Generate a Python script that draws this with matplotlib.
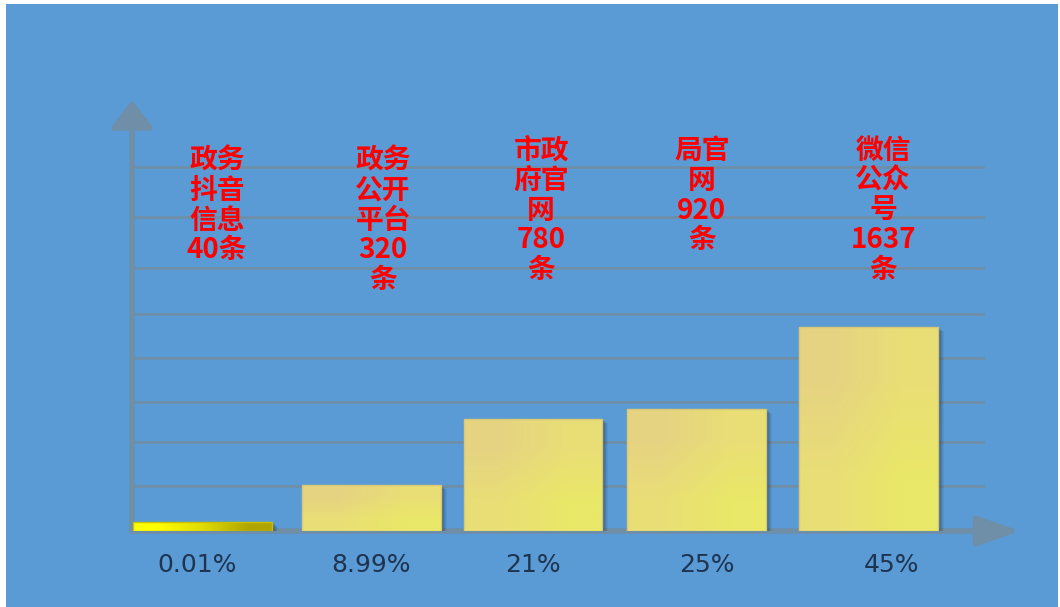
import numpy as np
import matplotlib
matplotlib.use("Agg")
import matplotlib.pyplot as plt
import matplotlib.transforms as mtransforms
from matplotlib.patches import Rectangle

plt.rcParams['font.family'] = ['Noto Sans CJK SC', 'DejaVu Sans']

# data
labels = ["政务\n抖音\n信息\n40条", "政务\n公开\n平台\n320\n条", "市政\n府官\n网\n780\n条",
          "局官\n网\n920\n条", "微信\n公众\n号\n1637\n条"]
percents = ["0.01%", "8.99%", "21%", "25%", "45%"]
heights = [9, 46, 112, 122, 204]           # bar height, same scale as the grid
grid_levels = [45, 89, 129, 173, 217, 263, 314, 364]

# layout
bar_pos = [0, 1.013, 1.986, 2.969, 4.0]
label_dx = [0.087, 0.072, 0.049, 0.031, 0.09]
label_top = [384, 384, 394, 394, 394]
pct_dx = [-0.033, 0.0, 0.0, 0.063, 0.143]
bg = "#5b9bd5"
axis_col = "#6f8ea8"

W, H = 1060, 607
fig = plt.figure(figsize=(W / 100, H / 100), dpi=100, facecolor="white")
fig.patches.append(Rectangle((6 / W, 0), (1058 - 6) / W, (H - 4) / H,
                             transform=fig.transFigure, facecolor=bg, edgecolor="none", zorder=-10))

# axes box: x 132..1020 px, y 531..100 px
ax = fig.add_axes([132 / W, (H - 531) / H, (1020 - 132) / W, (531 - 100) / H])
ax.set_facecolor("none")
for s in ax.spines.values():
    s.set_visible(False)
ax.set_xticks([])
ax.set_yticks([])

x0, x1 = -0.424, 4.913
ax.set_xlim(x0, x1)
ax.set_ylim(0, 431)

for g in grid_levels:
    ax.axhline(g, xmin=0, xmax=(983 - 132) / (1020 - 132), color=axis_col, lw=2, zorder=1)

# axis arrows
ax.annotate("", xy=(0, 1), xytext=(0, 0), xycoords="axes fraction",
            arrowprops=dict(arrowstyle="-|>,head_length=1.3,head_width=1.0", lw=4,
                            color=axis_col, shrinkA=0, shrinkB=0, mutation_scale=13),
            zorder=2, annotation_clip=False)
ax.annotate("", xy=(1, 0), xytext=(0, 0), xycoords="axes fraction",
            arrowprops=dict(arrowstyle="-|>,head_length=2.0,head_width=0.7", lw=4,
                            color=axis_col, shrinkA=0, shrinkB=0, mutation_scale=13),
            zorder=2, annotation_clip=False)

width = 0.835
bars = ax.bar(bar_pos, heights, width=width, color="none", edgecolor="none", zorder=4)

# soft drop shadow
for k, a in [(6, 0.08), (5, 0.1), (4, 0.13), (3, 0.16), (2, 0.2)]:
    tr = mtransforms.offset_copy(ax.transData, fig=fig, x=k, y=-k * 0.7, units="dots")
    for b in bars:
        ax.add_patch(Rectangle(b.get_xy(), b.get_width(), b.get_height(), transform=tr,
                               facecolor="#1f3550", alpha=a, edgecolor="none", zorder=3))

for i, b in enumerate(bars):
    bx, by = b.get_xy()
    bw, bh = b.get_width(), b.get_height()
    if i == 0:
        img = np.array([[[255, 255, 0], [225, 220, 0], [175, 165, 0]]]) / 255
        img = np.repeat(img, 2, axis=0)
    else:
        img = np.array([[[230, 211, 130], [233, 222, 118]],
                        [[233, 222, 118], [234, 232, 104]]]) / 255
    im = ax.imshow(img, extent=[bx, bx + bw, by, by + bh], aspect="auto",
                   interpolation="bilinear", zorder=5)
    im.set_clip_path(b)
    ax.add_patch(Rectangle((bx, by), bw, bh, facecolor="none",
                           edgecolor="#d9c874" if i else "#c8c000", lw=1, zorder=6))

ax.set_xlim(x0, x1)
ax.set_ylim(0, 431)

for i, t in enumerate(labels):
    ax.text(bar_pos[i] + label_dx[i], label_top[i], t, color="#ff0000", fontsize=20,
            fontweight="bold", ha="center", va="top", multialignment="center",
            linespacing=1.08, zorder=7)

for i, p in enumerate(percents):
    ax.text(bar_pos[i] + pct_dx[i], -34, p, color="#1e3450", fontsize=18,
            family=["DejaVu Sans"], ha="center", va="center",
            zorder=7, clip_on=False)

fig.savefig("out.png", dpi=100, facecolor="white")
